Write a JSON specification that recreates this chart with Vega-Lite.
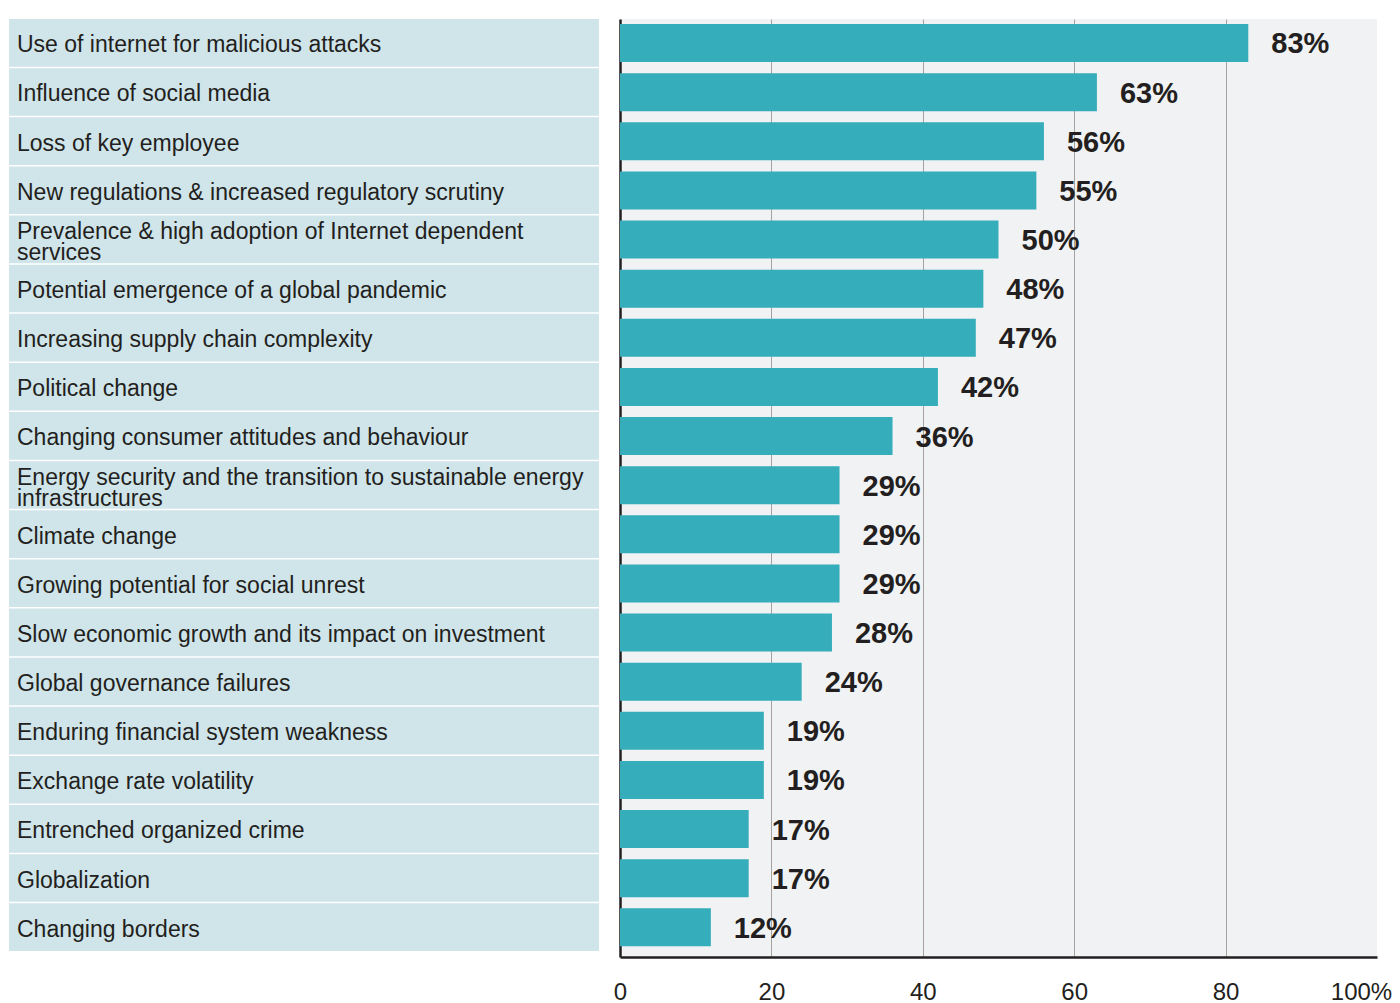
{
  "$schema": "https://vega.github.io/schema/vega-lite/v6.json",
  "padding": {"left": 9, "top": 19, "right": 5, "bottom": 0},
  "background": "white",
  "config": {"view": {"stroke": null}, "font": "Liberation Sans", "concat": {"spacing": 14}},
  "data": {"values": [
    {"label": "Use of internet for malicious attacks", "value": 83},
    {"label": "Influence of social media", "value": 63},
    {"label": "Loss of key employee", "value": 56},
    {"label": "New regulations & increased regulatory scrutiny", "value": 55},
    {"label": "Prevalence & high adoption of Internet dependent\nservices", "value": 50},
    {"label": "Potential emergence of a global pandemic", "value": 48},
    {"label": "Increasing supply chain complexity", "value": 47},
    {"label": "Political change", "value": 42},
    {"label": "Changing consumer attitudes and behaviour", "value": 36},
    {"label": "Energy security and the transition to sustainable energy\ninfrastructures", "value": 29},
    {"label": "Climate change", "value": 29},
    {"label": "Growing potential for social unrest", "value": 29},
    {"label": "Slow economic growth and its impact on investment", "value": 28},
    {"label": "Global governance failures", "value": 24},
    {"label": "Enduring financial system weakness", "value": 19},
    {"label": "Exchange rate volatility", "value": 19},
    {"label": "Entrenched organized crime", "value": 17},
    {"label": "Globalization", "value": 17},
    {"label": "Changing borders", "value": 12}
  ]},
  "hconcat": [
    {
      "width": 590,
      "height": 932,
      "encoding": {
        "y": {"field": "label", "type": "nominal", "sort": null, "axis": null,
              "scale": {"paddingInner": 0.03, "paddingOuter": 0}}
      },
      "layer": [
        {
          "mark": {"type": "bar", "color": "#d0e5ea"},
          "encoding": {
            "x": {"datum": 0, "type": "quantitative", "scale": {"domain": [0, 1]}, "axis": null},
            "x2": {"datum": 1}
          }
        },
        {
          "mark": {"type": "text", "align": "left", "baseline": "middle", "dx": 8, "fontSize": 23,
                   "color": "#231f20", "lineBreak": "\n", "lineHeight": 21,
                   "dy": {"expr": "indexof(datum.label, '\\n') >= 0 ? -7 : 2.5"}},
          "encoding": {
            "x": {"datum": 0, "type": "quantitative"},
            "text": {"field": "label"}
          }
        }
      ]
    },
    {
      "width": 757,
      "height": 938,
      "view": {"fill": "#f1f2f4", "stroke": null},
      "encoding": {
        "y": {"field": "label", "type": "nominal", "sort": null,
              "scale": {"paddingInner": 0.2265, "paddingOuter": 0.1594, "align": 0.319},
              "axis": {"labels": false, "ticks": false, "title": null, "domainColor": "#231f20", "domainWidth": 2.5,
                       "minExtent": 0, "maxExtent": 0}},
        "x": {"field": "value", "type": "quantitative", "scale": {"domain": [0, 100]},
              "axis": {
                "values": [0, 20, 40, 60, 80, 100],
                "labelExpr": "datum.value == 100 ? '100%' : datum.label",
                "ticks": false, "labelPadding": 23, "labelFontSize": 24, "labelColor": "#231f20",
                "labelFlush": false, "labelOverlap": false,
                "labelOffset": {"condition": {"test": "datum.value == 100", "value": -16}, "value": 0},
                "domainColor": "#231f20", "domainWidth": 2.5,
                "gridColor": "#a8a1a1", "gridWidth": 1,
                "gridOpacity": {"condition": {"test": "datum.value == 0 || datum.value == 100", "value": 0}, "value": 1},
                "title": null
              }}
      },
      "layer": [
        {"mark": {"type": "bar", "color": "#35adba"}},
        {
          "mark": {"type": "text", "align": "left", "baseline": "middle", "dx": 23, "dy": 1.5, "fontSize": 29,
                   "fontWeight": "bold", "color": "#231f20", "text": {"expr": "datum.value + '%'"}}
        }
      ]
    }
  ]
}
